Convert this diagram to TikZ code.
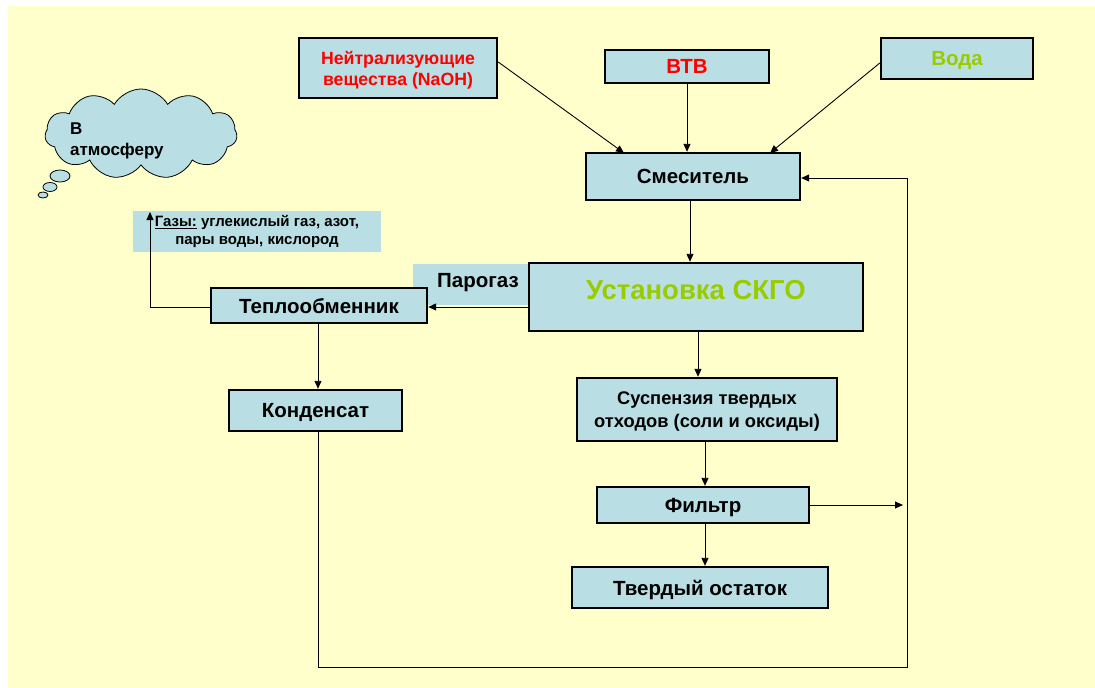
\documentclass[tikz,border=0pt]{standalone}
\usepackage{fontspec}
\setmainfont{Liberation Sans}
\usetikzlibrary{arrows.meta,shapes.symbols}
\definecolor{bg}{HTML}{FFFFCC}
\definecolor{boxfill}{HTML}{B9DFE4}
\definecolor{redtxt}{HTML}{FF0000}
\definecolor{greentxt}{HTML}{99CC00}
\begin{document}
\begin{tikzpicture}[x=1pt,y=-1pt,
  box/.style={draw=black,line width=2.4pt,fill=boxfill,inner sep=0pt,align=center,
    text depth=0pt,font=\bfseries\fontsize{20.5}{24}\selectfont},
  plainbox/.style={fill=boxfill,inner sep=0pt},
  conn/.style={line width=0.9pt,-{Triangle[length=8pt,width=7pt]}},
  wire/.style={line width=0.9pt}]
\useasboundingbox (0,0) rectangle (1095,688);
\fill[bg] (8,6) rectangle (1095,688);

% cloud
\node[cloud,draw=black,line width=0.8pt,fill=boxfill,cloud puffs=11,cloud puff arc=120,
  aspect=2.2,minimum width=192pt,minimum height=90pt,inner sep=0pt] (cloud) at (141,134) {};
\draw[line width=0.8pt,fill=boxfill] (60,176) ellipse [x radius=10,y radius=6];
\draw[line width=0.8pt,fill=boxfill] (50,187) ellipse [x radius=7,y radius=4.5];
\draw[line width=0.8pt,fill=boxfill] (43,195) ellipse [x radius=5,y radius=3];
\node[anchor=north west,align=left,inner sep=0pt,font=\bfseries\fontsize{17}{21}\selectfont] (cloudtxt) at (70,123) {В\\атмосферу};

% top inputs
\node[box,minimum width=198pt,minimum height=60pt,text=redtxt,font=\bfseries\fontsize{17.7}{21}\selectfont] (neutr) at (398,68) {Нейтрализующие\\вещества (NaOH)};
\node[box,minimum width=164pt,minimum height=33pt,text=redtxt] (btv) at (687,66.5) {ВТВ};
\node[box,minimum width=152pt,minimum height=41pt,text=greentxt] (voda) at (957,58.5) {Вода};

\node[box,minimum width=214pt,minimum height=47pt] (mix) at (693,176.5) {Смеситель};

% Парогаз label background
\node[plainbox,minimum width=116pt,minimum height=41pt] (parobg) at (471,284.5) {};
\node[font=\bfseries\fontsize{20.5}{24}\selectfont,inner sep=0pt] (parotxt) at (478,283) {Парогаз};

\node[box,minimum width=334pt,minimum height=68pt] (skgo) at (696,297) {};
\node[font=\bfseries\fontsize{27.5}{32}\selectfont,text=greentxt,inner sep=0pt] (skgotxt) at (696,290) {Установка СКГО};

% gases label
\node[plainbox,minimum width=248pt,minimum height=41pt,align=center,
  font=\bfseries\fontsize{15}{18}\selectfont] (gas) at (257,231.5)
  {\underline{Газы:} углекислый газ, азот,\\пары воды, кислород};

\node[box,minimum width=216pt,minimum height=35pt] (heat) at (319,305.5) {Теплообменник};
\node[box,minimum width=173pt,minimum height=41pt] (kond) at (315.5,410.5) {Конденсат};

\node[box,minimum width=260pt,minimum height=63pt,font=\bfseries\fontsize{18.3}{23}\selectfont] (susp) at (707,409.5) {Суспензия твердых\\отходов (соли и оксиды)};
\node[box,minimum width=212pt,minimum height=36pt] (filt) at (703,505) {Фильтр};
\node[box,minimum width=256pt,minimum height=41pt] (tverd) at (700,587.5) {Твердый остаток};

% connectors
\coordinate (mixin1) at (624,153);
\coordinate (mixin3) at (770,153);
\draw[conn] (neutr.east |- 0,62) -- (mixin1);
\draw[conn] (btv.south) -- (btv.south |- mix.north);
\draw[conn] (voda.west |- 0,63) -- (mixin3);
\draw[conn] (mix.south -| 690,0) -- (690,0 |- skgo.north);
\draw[conn] (skgo.south -| 698,0) -- (698,0 |- susp.north);
\draw[conn] (susp.south -| 705,0) -- (705,0 |- filt.north);
\draw[conn] (filt.south -| 705,0) -- (705,0 |- tverd.north);
\draw[conn] (skgo.west |- 0,307) -- (heat.east |- 0,307);
\coordinate (gastop) at (150,212);
\draw[conn] (heat.west |- 0,307) -| (gastop);
\draw[conn] (heat.south -| 318,0) -- (318,0 |- kond.north);
% return loop
\coordinate (loopbl) at (318,667);
\coordinate (loopbr) at (907,667);
\coordinate (looptr) at (907,178);
\draw[wire] (kond.south -| loopbl) -- (loopbl) -- (loopbr) -- (looptr);
\draw[conn] (looptr) -- (mix.east |- looptr);
\draw[conn] (filt.east) -- (903,0 |- filt.east);
\end{tikzpicture}
\end{document}
